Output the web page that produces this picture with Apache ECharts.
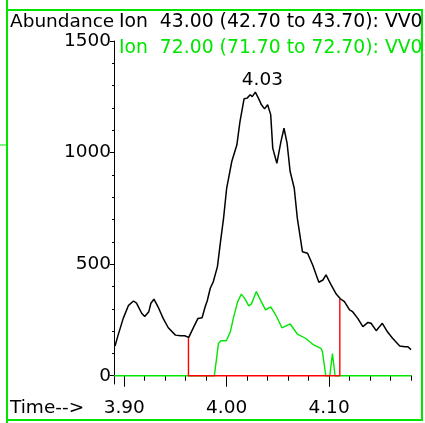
<!DOCTYPE html>
<html>
<head>
<meta charset="utf-8">
<script src="https://cdn.jsdelivr.net/npm/echarts@6/dist/echarts.min.js"></script>
<style>
  html, body { margin: 0; padding: 0; background: #fff; }
  #main { width: 425px; height: 423px; }
</style>
</head>
<body>
<div id="main"></div>
<script>
// ion 43 trace (black)
const blackTime = [3.891, 3.894, 3.899, 3.904, 3.909, 3.912, 3.917, 3.920, 3.924, 3.926, 3.929, 3.933, 3.938, 3.943, 3.950, 3.955, 3.959, 3.963, 3.968, 3.972, 3.976, 3.979, 3.981, 3.984, 3.987, 3.991, 3.994, 3.997, 4.000, 4.005, 4.010, 4.013, 4.017, 4.020, 4.023, 4.025, 4.028, 4.031, 4.034, 4.037, 4.040, 4.043, 4.045, 4.049, 4.053, 4.056, 4.059, 4.062, 4.066, 4.069, 4.074, 4.079, 4.084, 4.090, 4.094, 4.097, 4.102, 4.107, 4.111, 4.115, 4.120, 4.123, 4.128, 4.133, 4.138, 4.141, 4.146, 4.152, 4.157, 4.162, 4.169, 4.174, 4.177, 4.180];
const blackAbund = [133, 182, 257, 314, 335, 325, 280, 265, 287, 325, 343, 309, 257, 215, 182, 179, 179, 172, 220, 257, 260, 309, 335, 392, 422, 489, 601, 706, 840, 960, 1035, 1139, 1241, 1244, 1259, 1251, 1271, 1244, 1214, 1196, 1214, 1170, 1020, 952, 1049, 1109, 1042, 915, 840, 706, 556, 549, 496, 419, 429, 452, 407, 366, 345, 332, 295, 287, 257, 220, 239, 235, 202, 235, 197, 168, 133, 130, 130, 117];

// ion 72 trace (green)
const greenTime = [3.890, 3.988, 3.992, 3.9945, 3.9997, 4.0036, 4.0069, 4.0108, 4.0144, 4.0176, 4.0216, 4.0242, 4.029, 4.033, 4.038, 4.043, 4.048, 4.054, 4.062, 4.069, 4.077, 4.085, 4.092, 4.0935, 4.0968, 4.1007, 4.1033, 4.1059, 4.180];
const greenAbund = [0, 0, 145, 157, 157, 197, 265, 332, 366, 347, 313, 322, 377, 339, 295, 309, 272, 215, 232, 187, 168, 138, 123, 108, 0, 0, 99, 0, 0];

// integration marks (red)
const integTime = [3.9627, 3.9627, 4.1105, 4.1105];
const integAbund = [175, 0, 0, 345];

const peakTime = 4.028, peakAbund = 1271, peakLabel = '4.03';

const xMajor = [3.90, 4.00, 4.10];
const xMinor = [3.90, 3.92, 3.94, 3.96, 3.98, 4.00, 4.02, 4.04, 4.06, 4.08, 4.10, 4.12, 4.14, 4.16, 4.18];
const yMajor = [0, 500, 1000, 1500];
const yMinor = [0, 100, 200, 300, 400, 500, 600, 700, 800, 900, 1000, 1100, 1200, 1300, 1400, 1500];

const FONT = 'DejaVu Sans';
const GREEN = '#00e600';
const zip = (a, b) => a.map((v, i) => [v, b[i]]);

let myChart = echarts.init(document.getElementById('main'));

myChart.setOption({
  animation: false,
  grid: { left: 114, top: 41, right: 14, bottom: 39 },
  xAxis: [{
    type: 'value', min: 3.89, max: 4.18,
    axisLine: { show: true, lineStyle: { color: '#000', width: 1 } },
    axisTick: { show: true, length: 11, customValues: xMajor, lineStyle: { color: '#000' } },
    axisLabel: {
      customValues: xMajor, margin: 15, color: '#000', fontFamily: FONT, fontSize: 18.5,
      formatter: v => v.toFixed(2)
    },
    splitLine: { show: false }
  }, {
    type: 'value', min: 3.89, max: 4.18, position: 'bottom',
    axisLine: { show: false },
    axisTick: { show: true, length: 5, customValues: xMinor, lineStyle: { color: '#000' } },
    axisLabel: { show: false },
    splitLine: { show: false }
  }],
  yAxis: [{
    type: 'value', min: -37, max: 1500,
    axisLine: { show: true, lineStyle: { color: '#000', width: 1 } },
    axisTick: { show: true, length: 4, customValues: yMajor, lineStyle: { color: '#000' } },
    axisLabel: {
      customValues: yMajor, margin: 3, color: '#000', fontFamily: FONT, fontSize: 18.5,
      formatter: v => String(v)
    },
    splitLine: { show: false }
  }, {
    type: 'value', min: -37, max: 1500, position: 'left',
    axisLine: { show: false },
    axisTick: { show: true, length: 2, customValues: yMinor, lineStyle: { color: '#000' } },
    axisLabel: { show: false },
    splitLine: { show: false }
  }],
  series: [{
    type: 'line', data: zip(greenTime, greenAbund), symbol: 'none',
    lineStyle: { color: GREEN, width: 1.4 }
  }, {
    type: 'line', data: zip(integTime, integAbund), symbol: 'none',
    lineStyle: { color: '#ff0000', width: 1.4 }
  }, {
    type: 'line', data: zip(blackTime, blackAbund), symbol: 'none',
    lineStyle: { color: '#000', width: 1.5 },
    markPoint: {
      symbol: 'circle', symbolSize: 0,
      label: { show: true, formatter: peakLabel, offset: [7, -12], color: '#000', fontFamily: FONT, fontSize: 18.5 },
      data: [{ coord: [peakTime, peakAbund] }]
    }
  }],
  graphic: [
    { type: 'rect', shape: { x: 7, y: 10, width: 415, height: 410 }, style: { fill: 'none', stroke: GREEN, lineWidth: 2 } },
    { type: 'line', shape: { x1: 7, y1: 0, x2: 7, y2: 423 }, style: { stroke: GREEN, lineWidth: 2 } },
    { type: 'line', shape: { x1: 0, y1: 145, x2: 7, y2: 145 }, style: { stroke: GREEN, lineWidth: 1 } },
    { type: 'text', left: 10, top: 13, style: { text: 'Abundance', fill: '#000', font: '18.5px "DejaVu Sans"' } },
    { type: 'text', left: 119, top: 13, style: { text: 'Ion  43.00 (42.70 to 43.70): VV0', fill: '#000', font: '18.8px "DejaVu Sans"' } },
    { type: 'text', left: 119, top: 39, style: { text: 'Ion  72.00 (71.70 to 72.70): VV0', fill: GREEN, font: '18.8px "DejaVu Sans"' } },
    { type: 'text', left: 10, top: 399, style: { text: 'Time-->', fill: '#000', font: '18.5px "DejaVu Sans"' } }
  ]
});
</script>
</body>
</html>
